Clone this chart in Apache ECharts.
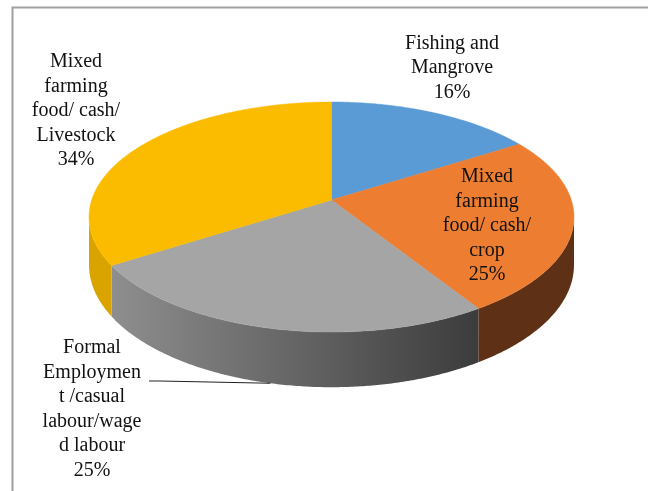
<!DOCTYPE html>
<html style="height: 100%">
<head>
    <meta charset="utf-8">
</head>
<body style="height: 100%; margin: 0">
<div id="container" style="height: 100%"></div>
<script type="text/javascript" src="https://cdn.jsdelivr.net/npm/echarts@6/dist/echarts.min.js"></script>
<script type="text/javascript">
var names = [
  'Fishing and\nMangrove',
  'Mixed\nfarming\nfood/ cash/\ncrop',
  'Formal\nEmploymen\nt /casual\nlabour/wage\nd labour',
  'Mixed\nfarming\nfood/ cash/\nLivestock'
];
var values = [16, 25, 25, 34];
var topColors = ['#5B9BD5', '#ED7D31', '#A5A5A5', '#FBBC00'];
var sideColors = ['#3F6E9A', '#5E3117', null, '#D9A300'];
// label centres (layout only)
var labelAt = [[452, 68], [487, 226], [92, 409], [76, 111]];

var dom = document.getElementById('container');
var myChart = echarts.init(dom);

var total = values.reduce(function (s, v) { return s + v; }, 0);
var starts = [];
var acc = 0;
values.forEach(function (v) { starts.push(acc / total * 360); acc += v; });

// fake 3d: tilted disc seen with a little perspective
var cx = 331.5, cy = 200, rx = 239.8, ry = 112.5, persp = 0.148, depth = 47;
var sideFrom = Math.acos(-persp) * 180 / Math.PI;
var sideTo = 360 - sideFrom;

function proj(deg, level) {
  var t = deg * Math.PI / 180;
  var X = Math.sin(t), Z = Math.cos(t);
  var s = 1 / (1 + persp * Z);
  return [cx + rx * X * s, cy - ry * Z * s + level * depth * s];
}

function arc(a0, a1, level) {
  var pts = [];
  var n = Math.max(2, Math.ceil((a1 - a0) / 0.5));
  for (var k = 0; k <= n; k++) {
    pts.push(proj(a0 + (a1 - a0) * k / n, level));
  }
  return pts;
}

var grayGrad = new echarts.graphic.LinearGradient(0, 0, 1, 0, [
  { offset: 0, color: '#8E8E8E' },
  { offset: 1, color: '#3C3C3C' }
]);

function renderItem(params, api) {
  var i = params.dataIndex;
  var a0 = starts[i];
  var a1 = a0 + values[i] / total * 360;
  var children = [];

  var s0 = Math.max(a0, sideFrom), s1 = Math.min(a1, sideTo);
  if (s1 > s0) {
    var side = arc(s0, s1, 0).concat(arc(s0, s1, 1).reverse());
    children.push({
      type: 'polygon',
      shape: { points: side },
      style: { fill: sideColors[i] || grayGrad, stroke: null }
    });
  }

  var top = [[cx, cy]].concat(arc(a0, a1, 0));
  children.push({
    type: 'polygon',
    shape: { points: top },
    style: { fill: topColors[i], stroke: topColors[i], lineWidth: 0.5 }
  });

  var pct = Math.round(values[i] / total * 100) + '%';
  children.push({
    type: 'text',
    style: {
      text: names[i] + '\n' + pct,
      x: labelAt[i][0],
      y: labelAt[i][1],
      align: 'center',
      verticalAlign: 'middle',
      fontFamily: '"Liberation Serif", "Times New Roman", serif',
      fontSize: 20,
      lineHeight: 24.5,
      fill: '#111'
    }
  });

  if (i === 2) {
    var mid = (a0 + a1) / 2;
    var end = proj(mid, 1);
    var sx = labelAt[i][0] + 57, sy = labelAt[i][1] - 28;
    children.push({
      type: 'polyline',
      shape: { points: [[sx, sy], [sx + 11, sy], end] },
      style: { stroke: '#222', lineWidth: 1, fill: null }
    });
  }

  return { type: 'group', children: children };
}

var option = {
  backgroundColor: '#fff',
  animation: false,
  graphic: [{
    type: 'rect',
    shape: { x: 12.5, y: 7.5, width: 700, height: 600 },
    style: { fill: null, stroke: '#A0A0A0', lineWidth: 2 },
    silent: true
  }],
  series: [{
    type: 'custom',
    coordinateSystem: 'none',
    silent: true,
    renderItem: renderItem,
    data: values
  }]
};

myChart.setOption(option);
</script>
</body>
</html>
